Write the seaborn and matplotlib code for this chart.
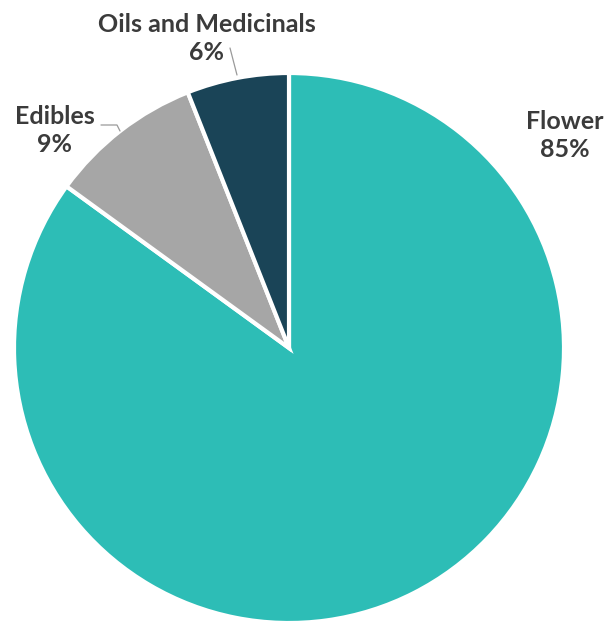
import matplotlib
matplotlib.use("Agg")
import matplotlib.pyplot as plt
import seaborn as sns
import numpy as np

# data
categories = ['Flower', 'Edibles', 'Oils and Medicinals']
shares = [85, 9, 6]
colors = ['#2DBDB6', '#A6A6A6', '#1A4457']

sns.set_theme(style="white")
plt.rcParams['font.family'] = ['Lato', 'DejaVu Sans']

W, H = 610, 621
fig = plt.figure(figsize=(W / 100, H / 100), dpi=100)

# pie centre (289, 348) px, radius 275 px
cx, cy, r = 289, 348, 275
ax = fig.add_axes([(cx - r) / W, (H - cy - r) / H, 2 * r / W, 2 * r / H])

ax.pie(shares, colors=colors, startangle=90, counterclock=False, radius=1,
       wedgeprops=dict(edgecolor='white', linewidth=3))
ax.set_xlim(-1, 1)
ax.set_ylim(-1, 1)
ax.set_aspect('auto')
ax.axis('off')


def px(x, y):
    return (x - cx) / r, (cy - y) / r


# x centre, baseline of the last line (pixels)
label_pos = {
    'Flower': (565, 157),
    'Edibles': (55, 152),
    'Oils and Medicinals': (207, 60),
}
for cat, val in zip(categories, shares):
    x, y = px(*label_pos[cat])
    ax.text(x, y, f"{cat}\n{val}%", ha='center', va='baseline', fontsize=18,
            fontweight='bold', color='#3B3B3B', linespacing=1.28,
            multialignment='center', clip_on=False)

# leader lines
leaders = [
    [(101, 125), (117, 125), (120, 131)],
    [(230, 48), (237, 75)],
]
for pts in leaders:
    xs, ys = zip(*[px(*p) for p in pts])
    ax.plot(xs, ys, color='#9A9A9A', linewidth=0.9, clip_on=False)

fig.savefig('out.png', dpi=100, facecolor='white')
